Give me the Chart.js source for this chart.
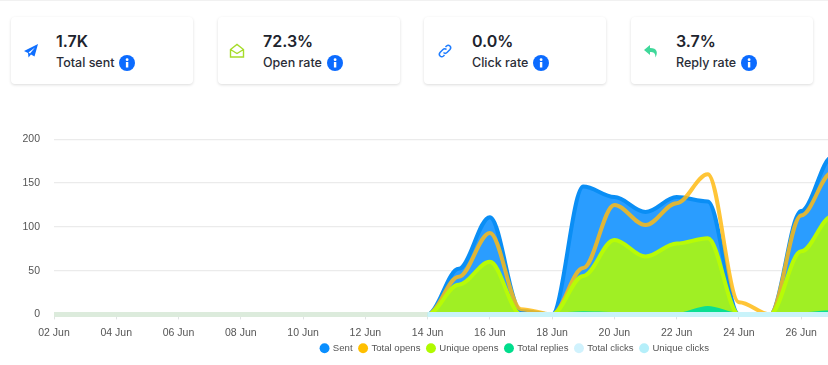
<!DOCTYPE html>
<html><head><meta charset="utf-8">
<script src="https://cdn.jsdelivr.net/npm/chart.js@4"></script>
<style>
html,body{margin:0;padding:0;width:828px;height:365px;overflow:hidden;background:#fff;font-family:"Inter","Open Sans",sans-serif;}
#top{position:absolute;left:0;top:0;width:828px;height:1px;background:#f1f1f1}
.card{position:absolute;top:17px;width:182px;height:67px;background:#fff;border-radius:4px;box-shadow:0 1px 3px rgba(0,0,0,.14);}
.v{position:absolute;left:45px;top:14px;font-size:16px;line-height:20px;font-weight:600;color:#20232d;white-space:nowrap}
.l{position:absolute;left:45px;top:37px;font-size:12.5px;line-height:17px;font-weight:500;color:#2a2d37;white-space:nowrap}
.l svg{position:absolute;top:0.5px}
.ic{position:absolute;left:12px;top:26px}
#wrap{position:absolute;left:0;top:119px;width:1030px;height:244px}
</style></head><body>
<div id="top"></div>
<div class="card" style="left:11px"><svg class="ic" width="16" height="16" viewBox="0 0 16 16"><path d="M15 1 L1 8 L5 10 L5.5 14.5 L8 11.5 L11.5 13.5 Z M5.5 9.5 L12 4.5 L7 10.5 Z" fill="#0f6fff" fill-rule="evenodd"/></svg><div class="v">1.7K</div><div class="l">Total sent<svg style="left:63px" width="16" height="16"><circle cx="8" cy="8" r="8" fill="#0b6bff"/><rect x="6.9" y="7" width="2.4" height="5.5" fill="#fff"/><circle cx="8.1" cy="4.7" r="1.4" fill="#fff"/></svg></div></div>
<div class="card" style="left:218px"><svg class="ic" style="left:11px" width="16" height="16" viewBox="0 0 16 16"><path d="M1.5 6.5 L8 1.5 L14.5 6.5 V14 H1.5 Z M1.5 6.5 L8 10.5 L14.5 6.5" fill="none" stroke="#a6dc2a" stroke-width="1.4"/></svg><div class="v">72.3%</div><div class="l">Open rate<svg style="left:64px" width="16" height="16"><circle cx="8" cy="8" r="8" fill="#0b6bff"/><rect x="6.9" y="7" width="2.4" height="5.5" fill="#fff"/><circle cx="8.1" cy="4.7" r="1.4" fill="#fff"/></svg></div></div>
<div class="card" style="left:424px"><svg class="ic" style="left:13px" width="16" height="16" viewBox="0 0 16 16"><path d="M6.5 9.5 C7.5 10.5 9 10.5 10 9.5 L13 6.5 C15 4 12 1 9.5 3 L8.5 4 M9.5 6.5 C8.5 5.5 7 5.5 6 6.5 L3 9.5 C1 12 4 15 6.5 13 L7.5 12" fill="none" stroke="#1f7dff" stroke-width="1.5"/></svg><div class="v" style="left:48px">0.0%</div><div class="l" style="left:48px">Click rate<svg style="left:61px" width="16" height="16"><circle cx="8" cy="8" r="8" fill="#0b6bff"/><rect x="6.9" y="7" width="2.4" height="5.5" fill="#fff"/><circle cx="8.1" cy="4.7" r="1.4" fill="#fff"/></svg></div></div>
<div class="card" style="left:631px"><svg class="ic" style="left:12px" width="16" height="16" viewBox="0 0 16 16"><path d="M7 2 L1 7 L7 12 V9 C10.5 9 12.5 10 12.5 14.5 C15 10 14.5 5 7 5 Z" fill="#3fd89a"/></svg><div class="v">3.7%</div><div class="l">Reply rate<svg style="left:65px" width="16" height="16"><circle cx="8" cy="8" r="8" fill="#0b6bff"/><rect x="6.9" y="7" width="2.4" height="5.5" fill="#fff"/><circle cx="8.1" cy="4.7" r="1.4" fill="#fff"/></svg></div></div>
<div id="wrap"><canvas id="c" width="1030" height="244"></canvas></div>
<script>
const days = ["02 Jun","03 Jun","04 Jun","05 Jun","06 Jun","07 Jun","08 Jun","09 Jun","10 Jun","11 Jun","12 Jun","13 Jun","14 Jun","15 Jun","16 Jun","17 Jun","18 Jun","19 Jun","20 Jun","21 Jun","22 Jun","23 Jun","24 Jun","25 Jun","26 Jun","27 Jun"];
const tickLabels = {0:"02 Jun",2:"04 Jun",4:"06 Jun",6:"08 Jun",8:"10 Jun",10:"12 Jun",12:"14 Jun",14:"16 Jun",16:"18 Jun",18:"20 Jun",20:"22 Jun",22:"24 Jun",24:"26 Jun",26:"28 Jun",28:"30 Jun",30:"02 Jul"};
const sent        = [0,0,0,0,0,0,0,0,0,0,0,0,0,52,111,4,0,146,134,117,134,129,0,0,118,180];
const totalOpens  = [0,0,0,0,0,0,0,0,0,0,0,0,0,43,93,6,0,53,125,102,127,160,14,0,113,162];
const uniqueOpens = [0,0,0,0,0,0,0,0,0,0,0,0,0,34,60,0,0,44,85,66,81,87,0,0,72,112];
const totalReplies= [0,0,0,0,0,0,0,0,0,0,0,0,0,0,1,0,0,2,1,0,0,8,0,0,1,3];
const totalClicks = [0,0,0,0,0,0,0,0,0,0,0,0,0,0,0,0,0,0,0,0,0,0,0,0,0,0];
const uniqueClicks= [0,0,0,0,0,0,0,0,0,0,0,0,0,0,0,0,0,0,0,0,0,0,0,0,0,0];
const xSpanDays = 31.35;
const legendColors = ["#0a8fff","#ffbf00","#b0fa00","#00dd8c","#d0f2fd","#b5effa"];
const pts = a => a.map((y,i)=>({x:i,y}));
const mk = (label,vals,line,fill,width,order,legend,extra) => Object.assign({label,data:pts(vals),borderColor:line,backgroundColor:fill||'transparent',fill:fill?'origin':false,borderWidth:width,pointRadius:0,cubicInterpolationMode:'monotone',order,clip:6,legendColor:legend},extra||{});
const bandSeg = {segment:{borderColor:c=>c.p0DataIndex<12?'#dcebdc':'#c9f3fa'}};
// Flat tangents at every day, as in the source's spline
const flatSpline = {id:'flatSpline',beforeDatasetsDraw(chart){
  chart.data.datasets.forEach((d,di)=>{
    const meta=chart.getDatasetMeta(di); const line=meta.dataset; if(!line) return;
    line.updateControlPoints(chart.chartArea,'x');
    const p=meta.data;
    p.forEach((c,i)=>{
      const dp=i>0?c.x-p[i-1].x:0, dn=i<p.length-1?p[i+1].x-c.x:0;
      c.cp1x=c.x-0.35*dp;c.cp1y=c.y;c.cp2x=c.x+0.35*dn;c.cp2y=c.y;
    });
  });
}};
new Chart(document.getElementById('c'),{
  type:'line',
  plugins:[flatSpline],
  data:{datasets:[
    mk("Sent",sent,"#0a8ef5","#2a9dff",4,6,legendColors[0]),
    mk("Total opens",totalOpens,"rgba(255,187,20,.85)",null,4,5,legendColors[1]),
    mk("Unique opens",uniqueOpens,"#b8fb06","#a0ef24",4,4,legendColors[2]),
    mk("Total replies",totalReplies,"#0bde92","#0bde92",3,3,legendColors[3]),
    mk("Total clicks",totalClicks,"#c9f3fa",null,5,2,legendColors[4],bandSeg),
    mk("Unique clicks",uniqueClicks,"#c9f3fa",null,5,1,legendColors[5],bandSeg)
  ]},
  options:{
    responsive:false,animation:false,
    layout:{padding:{top:19,left:0,right:0,bottom:0}},
    plugins:{tooltip:{enabled:false},
      legend:{position:'bottom',labels:{usePointStyle:true,pointStyle:'circle',boxWidth:7,boxHeight:7,padding:7,color:'#555',font:{family:'"Liberation Sans",Arial',size:9.6},
        generateLabels:ch=>ch.data.datasets.map((d,i)=>({text:d.label,fillStyle:d.legendColor,strokeStyle:d.legendColor,lineWidth:0,pointStyle:'circle',datasetIndex:i,hidden:false,fontColor:'#555'}))}}},
    scales:{
      x:{type:'linear',min:0,max:xSpanDays,
        afterFit:s=>{s.height=22},
        grid:{drawOnChartArea:false,drawTicks:true,tickLength:5,color:'#dfe3e3'},border:{display:false},
        ticks:{stepSize:2,includeBounds:false,autoSkip:false,maxRotation:0,padding:7,color:'#555',font:{family:'"Liberation Sans",Arial',size:10.5},callback:v=>tickLabels[v]||''}},
      y:{min:0,max:200,
        afterFit:s=>{s.width=54},
        grid:{color:'#ebebeb',lineWidth:1.3,drawTicks:false},border:{display:false},
        ticks:{stepSize:50,padding:14,color:'#555',font:{family:'"Liberation Sans",Arial',size:10.5}}}
    }
  }
});
</script>
</body></html>
